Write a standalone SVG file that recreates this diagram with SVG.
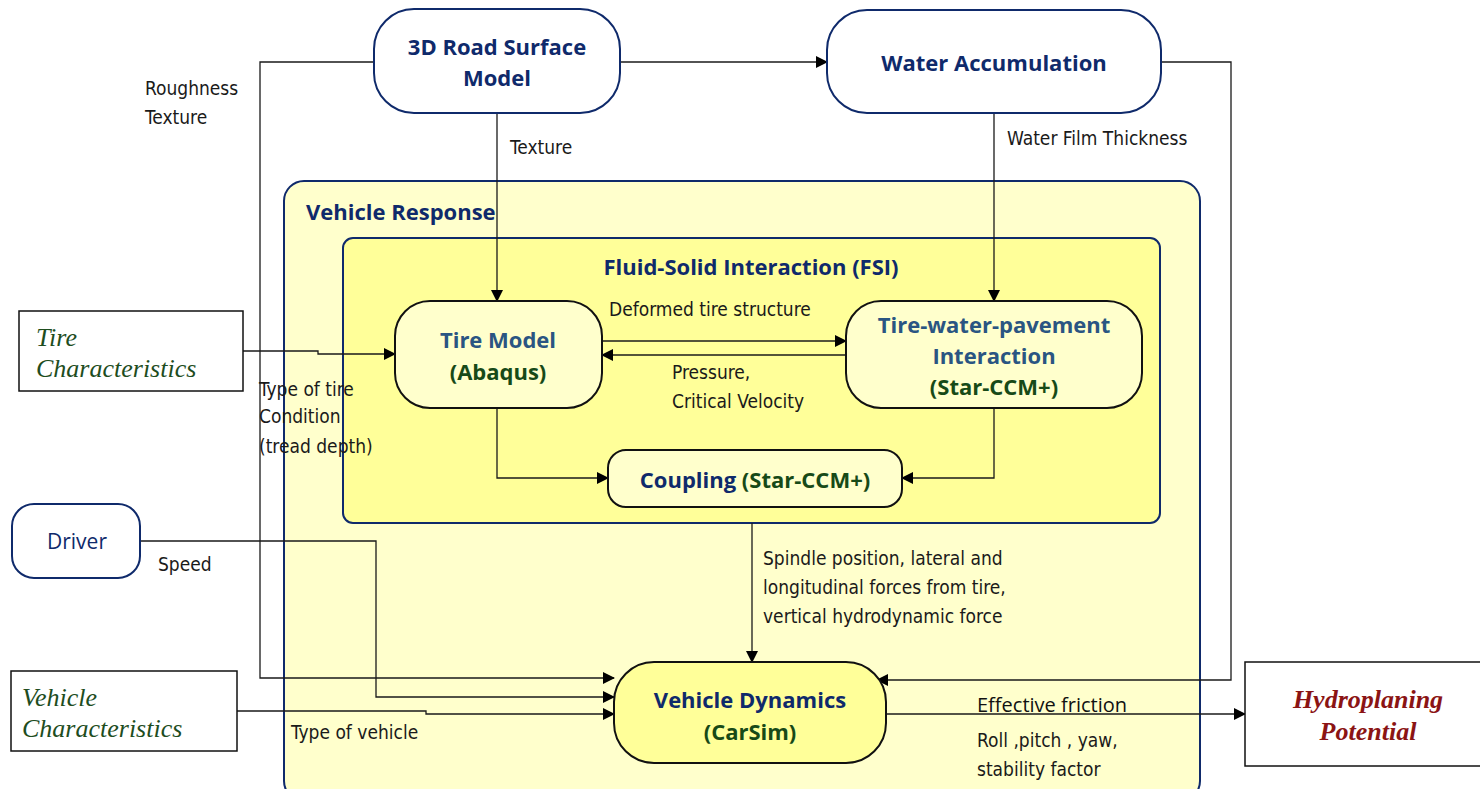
<svg xmlns="http://www.w3.org/2000/svg" width="1480" height="789" viewBox="0 0 1480 789">
<style>
.nav{fill:#fff;stroke:#0f2a6b;stroke-width:2}
.inner{fill:#ffffcc;stroke:#111;stroke-width:2}
.rect{fill:#fff;stroke:#111;stroke-width:1.5}
.b{font-family:"Open Sans",Lato,sans-serif;font-weight:bold;font-size:22px;text-anchor:middle}
.navy{fill:#0f2a6b}
.blue{fill:#2a5582}
.green{fill:#174a17}
.lab{font-family:"Liberation Sans Narrow","DejaVu Sans Condensed",sans-serif;font-size:19px;fill:#1a1a1a}
.ser{font-family:"Liberation Serif",serif;font-style:italic;font-size:26px;fill:#1e4d1e}
.hp{font-family:"Liberation Serif",serif;font-style:italic;font-weight:bold;font-size:26px;fill:#8b1414;text-anchor:middle}
.con{fill:none;stroke:#1a1a1a;stroke-width:1.3}
</style>
<defs>
<marker id="ah" markerWidth="12" markerHeight="12" refX="11" refY="6" orient="auto" markerUnits="userSpaceOnUse">
<path d="M0,0 L12,6 L0,12 z" fill="#000"/>
</marker>
</defs>
<rect width="1480" height="789" fill="#fff"/>

<g id="vehicle-response">
<rect x="284" y="181" width="916" height="620" rx="20" fill="#ffffcc" stroke="#0f2a6b" stroke-width="2"/>
<text x="306" y="220" class="b navy" style="text-anchor:start">Vehicle Response</text>
</g>
<g id="fsi">
<rect x="343" y="238" width="817" height="285" rx="10" fill="#ffff99" stroke="#0f2a6b" stroke-width="2"/>
<text x="751" y="275" class="b navy">Fluid-Solid Interaction (FSI)</text>
</g>

<g id="connectors">
<path class="con" d="M620,62 H827" marker-end="url(#ah)"/>
<path class="con" d="M374,62 H260 V678 H614" marker-end="url(#ah)"/>
<path class="con" d="M497,113 V301" marker-end="url(#ah)"/>
<path class="con" d="M994,113 V301" marker-end="url(#ah)"/>
<path class="con" d="M1161,62 H1231 V680 H877" marker-end="url(#ah)"/>
<path class="con" d="M243,351 H318 V354 H395" marker-end="url(#ah)"/>
<path class="con" d="M602,341 H846" marker-end="url(#ah)"/>
<path class="con" d="M846,355 H602" marker-end="url(#ah)"/>
<path class="con" d="M497,408 V478 H608" marker-end="url(#ah)"/>
<path class="con" d="M994,408 V478 H902" marker-end="url(#ah)"/>
<path class="con" d="M752,523 V662" marker-end="url(#ah)"/>
<path class="con" d="M140,541 H376 V697 H614" marker-end="url(#ah)"/>
<path class="con" d="M237,711 H426 V714 H614" marker-end="url(#ah)"/>
<path class="con" d="M886,714 H1245" marker-end="url(#ah)"/>
</g>

<g id="road-model">
<rect x="374" y="9" width="246" height="104" rx="40" class="nav"/>
<text x="497" y="55" class="b navy">3D Road Surface</text>
<text x="497" y="86" class="b navy">Model</text>
</g>
<g id="water-accumulation">
<rect x="827" y="10" width="334" height="103" rx="40" class="nav"/>
<text x="994" y="71" class="b navy">Water Accumulation</text>
</g>
<g id="tire-characteristics">
<rect x="19" y="311" width="224" height="80" class="rect"/>
<text x="36" y="346" class="ser">Tire</text>
<text x="36" y="377" class="ser">Characteristics</text>
</g>
<g id="driver">
<rect x="12" y="504" width="128" height="74" rx="22" class="nav"/>
<text x="77" y="549" class="navy" style="font-family:'Open Sans',sans-serif;font-size:21px;text-anchor:middle">Driver</text>
</g>
<g id="vehicle-characteristics">
<rect x="11" y="671" width="226" height="80" class="rect"/>
<text x="22" y="706" class="ser">Vehicle</text>
<text x="22" y="737" class="ser">Characteristics</text>
</g>
<g id="hydroplaning">
<rect x="1245" y="662" width="245" height="104" class="rect"/>
<text x="1368" y="708" class="hp">Hydroplaning</text>
<text x="1368" y="740" class="hp">Potential</text>
</g>
<g id="tire-model">
<rect x="395" y="301" width="207" height="107" rx="35" class="inner"/>
<text x="498" y="348" class="b blue">Tire Model</text>
<text x="498" y="380" class="b green">(Abaqus)</text>
</g>
<g id="tire-water">
<rect x="846" y="301" width="296" height="107" rx="35" class="inner"/>
<text x="994" y="333" class="b blue">Tire-water-pavement</text>
<text x="994" y="364" class="b blue">Interaction</text>
<text x="994" y="395" class="b green">(Star-CCM+)</text>
</g>
<g id="coupling">
<rect x="608" y="450" width="294" height="57" rx="18" class="inner"/>
<text x="755" y="488" class="b"><tspan class="navy">Coupling</tspan><tspan class="green"> (Star-CCM+)</tspan></text>
</g>
<g id="vehicle-dynamics">
<rect x="614" y="662" width="272" height="101" rx="40" fill="#ffff99" stroke="#111" stroke-width="2"/>
<text x="750" y="708" class="b navy">Vehicle Dynamics</text>
<text x="750" y="740" class="b green">(CarSim)</text>
</g>

<g id="labels">
<text x="145" y="95" class="lab">Roughness</text>
<text x="145" y="124" class="lab">Texture</text>
<text x="510" y="154" class="lab">Texture</text>
<text x="1007" y="145" class="lab">Water Film Thickness</text>
<text x="609" y="316" class="lab">Deformed tire structure</text>
<text x="672" y="379" class="lab">Pressure,</text>
<text x="672" y="408" class="lab">Critical Velocity</text>
<text x="259" y="396" class="lab">Type of tire</text>
<text x="259" y="423" class="lab">Condition</text>
<text x="259" y="453" class="lab">(tread depth)</text>
<text x="158" y="571" class="lab">Speed</text>
<text x="763" y="565" class="lab">Spindle position, lateral and</text>
<text x="763" y="594" class="lab">longitudinal forces from tire,</text>
<text x="763" y="623" class="lab">vertical hydrodynamic force</text>
<text x="291" y="739" class="lab">Type of vehicle</text>
<text x="977" y="712" style="font-family:'Open Sans',sans-serif;font-size:20px;fill:#111">Effective friction</text>
<text x="977" y="747" class="lab">Roll ,pitch , yaw,</text>
<text x="977" y="776" class="lab">stability factor</text>
</g>
</svg>
